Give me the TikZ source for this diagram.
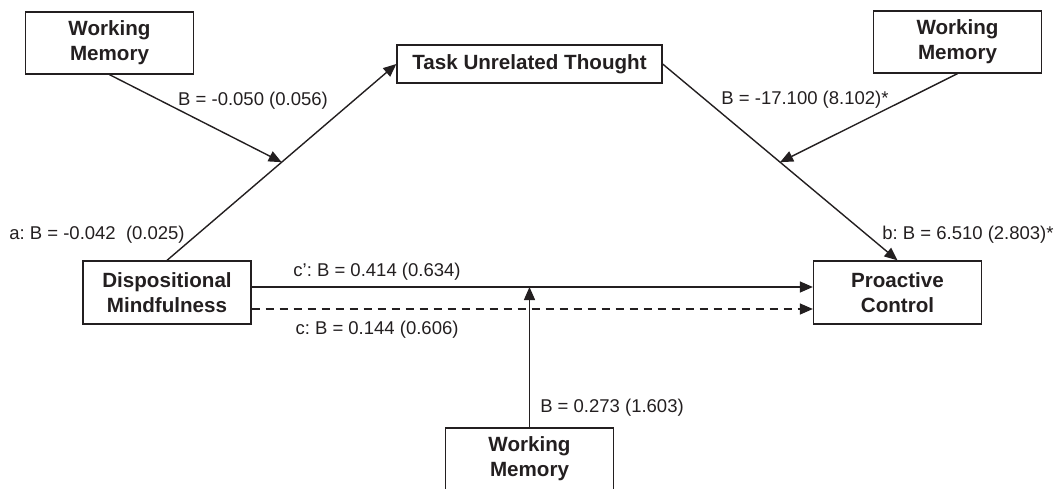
\documentclass[tikz,border=0pt]{standalone}
\usepackage{fontspec}
\setmainfont{Liberation Sans}
\usepackage{xcolor}
\usetikzlibrary{arrows.meta,positioning,calc}
\definecolor{medink}{RGB}{35,31,32}
\frenchspacing
\tikzset{
medbox/.style={rectangle,draw=medink,line width=1.3pt,align=center,inner sep=2pt,font=\bfseries\fontsize{20.6}{25}\selectfont,text=medink},
medwm/.style={medbox,minimum width=168pt,minimum height=62pt},
medlabel/.style={font=\fontsize{18.5}{22}\selectfont,text=medink,inner sep=1pt},
medline/.style={draw=medink,line width=1.4pt},
medarr/.style={medline,-{Triangle[length=13pt,width=11pt]}},
meddash/.style={medarr,dash pattern=on 8pt off 6pt}
}
\begin{document}
\begin{tikzpicture}[
x=1pt,
y=-1pt
]
\useasboundingbox (0,0) rectangle (1055,488);
\node[medwm] (wmleft) at (109.5,43) {Working\\Memory};
\node[medbox,minimum width=265pt,minimum height=38pt] (tut) at (529.5,64) {Task Unrelated Thought};
\node[medwm] (wmright) at (957.5,42) {Working\\Memory};
\node[medwm,minimum height=63pt] (dm) at (167,292.5) {Dispositional\\Mindfulness};
\node[medwm,minimum height=63pt] (pc) at (897.5,292.5) {Proactive\\Control};
\node[medwm] (wmbottom) at (529.5,459) {Working\\Memory};
% paths
\draw[medarr] (dm.north) -- coordinate[pos=0.5] (amid) (tut.west);
\draw[medarr] (tut.east) -- coordinate[pos=0.5] (bmid) (pc.north);
\draw[medarr] ([yshift=5.5pt]dm.east) -- coordinate[pos=0.49] (cmid) ([yshift=5.5pt]pc.west);
\draw[meddash] ([yshift=-16.5pt]dm.east) -- ([yshift=-16.5pt]pc.west);
% moderators
\draw[medarr] (wmleft.south) -- (amid);
\draw[medarr] (wmright.south) -- (bmid);
\draw[medarr] (wmbottom.north) -- (wmbottom.north |- cmid);
% labels
\node[medlabel] (labwmleft) at (253,101) {B = -0.050 (0.056)};
\node[medlabel] (laba) at (97,235) {a: B = -0.042\ \ (0.025)};
\node[medlabel] (labwmright) at (805,100) {B = -17.100 (8.102)*};
\node[medlabel] (labb) at (968,235) {b: B = 6.510 (2.803)*};
\node[medlabel] (labcp) at (377,272) {c': B = 0.414 (0.634)};
\node[medlabel] (labc) at (377,330) {c: B = 0.144 (0.606)};
\node[medlabel] (labwmbottom) at (612,408) {B = 0.273 (1.603)};
\end{tikzpicture}
\end{document}
